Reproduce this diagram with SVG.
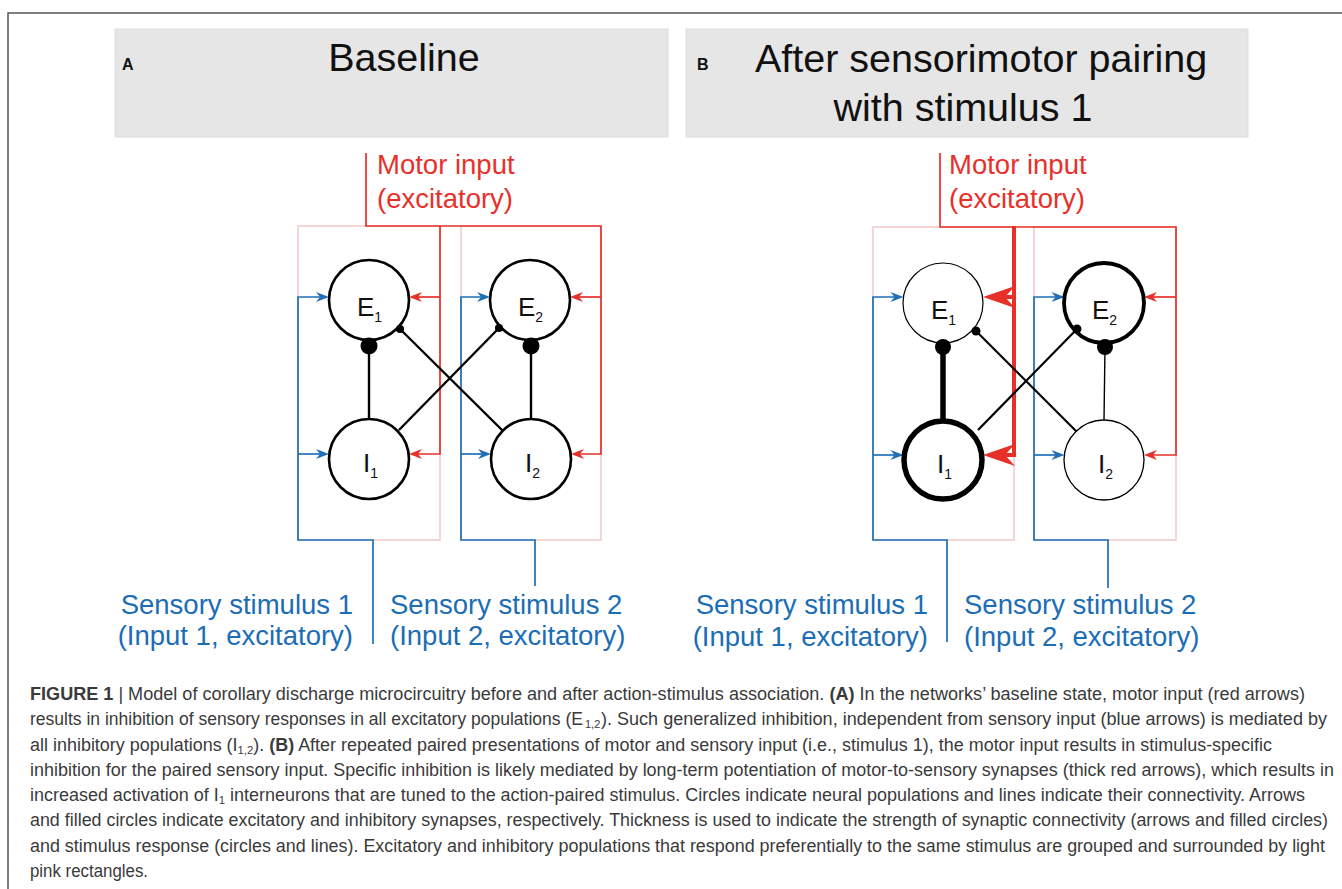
<svg xmlns="http://www.w3.org/2000/svg" xmlns:xlink="http://www.w3.org/1999/xlink" width="1342" height="889" viewBox="0 0 1342 889">
<style>
  .hdr { fill: #e6e6e6; stroke: #dedede; stroke-width: 1; }
  .title { font-family: "Liberation Sans", Arial, sans-serif; font-size: 39.5px; fill: #111; text-anchor: middle; }
  .plabel { font-family: "Liberation Sans", Arial, sans-serif; font-size: 16px; font-weight: bold; fill: #111; }
  .pink { fill: none; stroke: #f3cccc; stroke-width: 1.6; }
  .red { fill: none; stroke: #e8302a; stroke-width: 1.7; }
  .redthick { fill: none; stroke: #e8302a; stroke-width: 4; }
  .blue { fill: none; stroke: #1f6fb9; stroke-width: 1.7; }
  .redtxt { font-family: "Liberation Sans", Arial, sans-serif; font-size: 27.5px; fill: #e8302a; }
  .bluetxt { font-family: "Liberation Sans", Arial, sans-serif; font-size: 27.5px; fill: #1b6db5; }
  .node { fill: #fff; stroke: #000; }
  .nlab { font-family: "Liberation Sans", Arial, sans-serif; font-size: 26px; fill: #111; }
  .sub { font-size: 14px; }
  .blk { fill: none; stroke: #000; }
  .dot { fill: #000; }
  .cap { font-family: "Liberation Sans", Arial, sans-serif; font-size: 17.5px; fill: #3a3a3a; }
  .csub { font-size: 11px; }
  .frame { fill: none; stroke: #555; stroke-width: 1.5; }
</style>
<defs>
  <path id="headS" d="M0,0 L-13,-5 L-9,0 L-13,5 Z"/>
  <path id="headL" d="M0,0 L-32,-11 L-22,0 L-32,11 Z"/>
</defs>

<rect width="1342" height="889" fill="#fff"/>
<path class="frame" d="M8,889 V13 H1342"/>

<!-- Headers -->
<g id="headerA">
  <rect class="hdr" x="115" y="29" width="553" height="108"/>
  <text class="plabel" x="122" y="70">A</text>
  <text class="title" x="404" y="71">Baseline</text>
</g>
<g id="headerB">
  <rect class="hdr" x="686" y="29" width="562" height="108"/>
  <text class="plabel" x="697" y="70">B</text>
  <text class="title" x="981" y="72">After sensorimotor pairing</text>
  <text class="title" x="963" y="121">with stimulus 1</text>
</g>

<!-- Pink grouping rectangles -->
<g id="groupsA">
  <rect class="pink" x="298" y="226" width="142" height="314"/>
  <rect class="pink" x="461" y="226" width="140" height="314"/>
</g>
<g id="groupsB">
  <rect class="pink" x="873" y="227" width="141" height="313"/>
  <rect class="pink" x="1034" y="227" width="142" height="313"/>
</g>

<!-- Connectors -->
<g id="connectors">
  <!-- Panel A sensory (blue) -->
  <path class="blue" d="M373,644 V540 H298 V297 H321"/>
  <path class="blue" d="M298,454 H321"/>
  <path class="blue" d="M535,586 V540 H461 V297 H482"/>
  <path class="blue" d="M461,454 H483"/>
  <g fill="#1f6fb9">
    <use xlink:href="#headS" transform="translate(329,297)"/>
    <use xlink:href="#headS" transform="translate(329,454)"/>
    <use xlink:href="#headS" transform="translate(490,297)"/>
    <use xlink:href="#headS" transform="translate(491,454)"/>
  </g>
  <!-- Panel A motor (red) -->
  <path class="red" d="M366,153 V226 H601 V454 H580"/>
  <path class="red" d="M601,297 H579"/>
  <path class="red" d="M440,226 V454 H418"/>
  <path class="red" d="M440,297 H418"/>
  <g fill="#e8302a">
    <use xlink:href="#headS" transform="translate(409,297) rotate(180)"/>
    <use xlink:href="#headS" transform="translate(409,454) rotate(180)"/>
    <use xlink:href="#headS" transform="translate(570,297) rotate(180)"/>
    <use xlink:href="#headS" transform="translate(571,454) rotate(180)"/>
  </g>
  <!-- Panel A inhibitory/recurrent (black) -->
  <line class="blk" stroke-width="2.4" x1="369" y1="346" x2="369" y2="419"/>
  <line class="blk" stroke-width="2.4" x1="531" y1="346" x2="531" y2="419"/>
  <line class="blk" stroke-width="2.4" x1="400" y1="329" x2="503" y2="431"/>
  <line class="blk" stroke-width="2.4" x1="499" y1="328" x2="399" y2="430"/>

  <!-- Panel B sensory (blue) -->
  <path class="blue" d="M947,642 V540 H873 V297 H895"/>
  <path class="blue" d="M873,455 H895"/>
  <path class="blue" d="M1108,588 V540 H1034 V297 H1056"/>
  <path class="blue" d="M1034,455 H1056"/>
  <g fill="#1f6fb9">
    <use xlink:href="#headS" transform="translate(903.5,297)"/>
    <use xlink:href="#headS" transform="translate(903.5,455)"/>
    <use xlink:href="#headS" transform="translate(1064.5,297)"/>
    <use xlink:href="#headS" transform="translate(1064.5,455)"/>
  </g>
  <!-- Panel B motor (red) -->
  <path class="red" d="M940,153 V227 H1176 V455 H1153"/>
  <path class="red" d="M1176,297 H1153"/>
  <path class="redthick" d="M1014,226 V457"/>
  <path class="redthick" d="M1014,297 H1000"/>
  <path class="redthick" d="M1014,455 H1000"/>
  <g fill="#e8302a">
    <use xlink:href="#headS" transform="translate(1144,297) rotate(180)"/>
    <use xlink:href="#headS" transform="translate(1144,455) rotate(180)"/>
    <use xlink:href="#headL" transform="translate(983,297) rotate(180)"/>
    <use xlink:href="#headL" transform="translate(983,455) rotate(180)"/>
  </g>
  <!-- Panel B inhibitory/recurrent (black) -->
  <line class="blk" stroke-width="5.5" x1="943" y1="347" x2="943" y2="420"/>
  <line class="blk" stroke-width="1.4" x1="1105" y1="347" x2="1104" y2="420"/>
  <line class="blk" stroke-width="2.2" x1="976" y1="331" x2="1078" y2="433"/>
  <line class="blk" stroke-width="2.2" x1="1077" y1="329" x2="978" y2="430"/>
</g>

<!-- Panel A nodes -->
<g id="A-E1">
  <circle class="node" stroke-width="2.6" cx="369" cy="300" r="40"/>
  <text class="nlab" x="357" y="316">E<tspan class="sub" dy="6">1</tspan></text>
</g>
<g id="A-I1">
  <circle class="node" stroke-width="2.6" cx="369" cy="459" r="40"/>
  <text class="nlab" x="363" y="472">I<tspan class="sub" dy="6">1</tspan></text>
</g>
<g id="A-E2">
  <circle class="node" stroke-width="2.6" cx="530" cy="300" r="40"/>
  <text class="nlab" x="518" y="316">E<tspan class="sub" dy="6">2</tspan></text>
</g>
<g id="A-I2">
  <circle class="node" stroke-width="2.6" cx="531" cy="459" r="40"/>
  <text class="nlab" x="525" y="472">I<tspan class="sub" dy="6">2</tspan></text>
</g>
<g id="A-synapses">
  <circle class="dot" cx="369" cy="346" r="8.5"/>
  <circle class="dot" cx="531" cy="346" r="8.5"/>
  <circle class="dot" cx="400" cy="329" r="4"/>
  <circle class="dot" cx="499" cy="328" r="4"/>
</g>

<!-- Panel B nodes -->
<g id="B-E1">
  <circle class="node" stroke-width="1.2" cx="943" cy="303" r="40"/>
  <text class="nlab" x="931" y="319">E<tspan class="sub" dy="6">1</tspan></text>
</g>
<g id="B-I1">
  <circle class="node" stroke-width="5.5" cx="943" cy="460" r="39"/>
  <text class="nlab" x="937" y="473">I<tspan class="sub" dy="6">1</tspan></text>
</g>
<g id="B-E2">
  <circle class="node" stroke-width="3.8" cx="1104" cy="303" r="40"/>
  <text class="nlab" x="1092" y="319">E<tspan class="sub" dy="6">2</tspan></text>
</g>
<g id="B-I2">
  <circle class="node" stroke-width="1.3" cx="1104" cy="460" r="40"/>
  <text class="nlab" x="1098" y="473">I<tspan class="sub" dy="6">2</tspan></text>
</g>
<g id="B-synapses">
  <circle class="dot" cx="943" cy="347" r="8"/>
  <circle class="dot" cx="1105" cy="347" r="8"/>
  <circle class="dot" cx="976" cy="331" r="4.5"/>
  <circle class="dot" cx="1077" cy="329" r="4.5"/>
</g>

<!-- Input labels -->
<g id="A-motor-label">
  <text class="redtxt" x="377" y="174">Motor input</text>
  <text class="redtxt" x="377" y="208">(excitatory)</text>
</g>
<g id="A-sensory-labels">
  <text class="bluetxt" x="353" y="614" text-anchor="end">Sensory stimulus 1</text>
  <text class="bluetxt" x="353" y="645" text-anchor="end">(Input 1, excitatory)</text>
  <text class="bluetxt" x="390" y="614">Sensory stimulus 2</text>
  <text class="bluetxt" x="390" y="645">(Input 2, excitatory)</text>
</g>
<g id="B-motor-label">
  <text class="redtxt" x="949" y="174">Motor input</text>
  <text class="redtxt" x="949" y="208">(excitatory)</text>
</g>
<g id="B-sensory-labels">
  <text class="bluetxt" x="928" y="614" text-anchor="end">Sensory stimulus 1</text>
  <text class="bluetxt" x="928" y="646" text-anchor="end">(Input 1, excitatory)</text>
  <text class="bluetxt" x="964" y="614">Sensory stimulus 2</text>
  <text class="bluetxt" x="964" y="646">(Input 2, excitatory)</text>
</g>

<!-- Caption -->
<g id="caption" class="cap">
  <text x="30" y="700" textLength="1275" lengthAdjust="spacingAndGlyphs"><tspan font-weight="bold">FIGURE 1</tspan> | Model of corollary discharge microcircuitry before and after action-stimulus association. <tspan font-weight="bold">(A)</tspan> In the networks’ baseline state, motor input (red arrows)</text>
  <text x="30" y="725" textLength="553" lengthAdjust="spacingAndGlyphs">results in inhibition of sensory responses in all excitatory populations (E</text>
  <text class="csub" x="585" y="728">1,2</text>
  <text x="601" y="725" textLength="726" lengthAdjust="spacingAndGlyphs">). Such generalized inhibition, independent from sensory input (blue arrows) is mediated by</text>
  <text x="30" y="751" textLength="1242" lengthAdjust="spacingAndGlyphs">all inhibitory populations (I<tspan class="csub" dy="3">1,2</tspan><tspan dy="-3">). </tspan><tspan font-weight="bold">(B)</tspan> After repeated paired presentations of motor and sensory input (i.e., stimulus 1), the motor input results in stimulus-specific</text>
  <text x="30" y="776" textLength="1304" lengthAdjust="spacingAndGlyphs">inhibition for the paired sensory input. Specific inhibition is likely mediated by long-term potentiation of motor-to-sensory synapses (thick red arrows), which results in</text>
  <text x="30" y="801" textLength="1275" lengthAdjust="spacingAndGlyphs">increased activation of I<tspan class="csub" dy="3">1</tspan><tspan dy="-3"> interneurons that are tuned to the action-paired stimulus. Circles indicate neural populations and lines indicate their connectivity. Arrows</tspan></text>
  <text x="30" y="826" textLength="1298" lengthAdjust="spacingAndGlyphs">and filled circles indicate excitatory and inhibitory synapses, respectively. Thickness is used to indicate the strength of synaptic connectivity (arrows and filled circles)</text>
  <text x="30" y="852" textLength="1295" lengthAdjust="spacingAndGlyphs">and stimulus response (circles and lines). Excitatory and inhibitory populations that respond preferentially to the same stimulus are grouped and surrounded by light</text>
  <text x="30" y="877" textLength="118" lengthAdjust="spacingAndGlyphs">pink rectangles.</text>
</g>
</svg>
